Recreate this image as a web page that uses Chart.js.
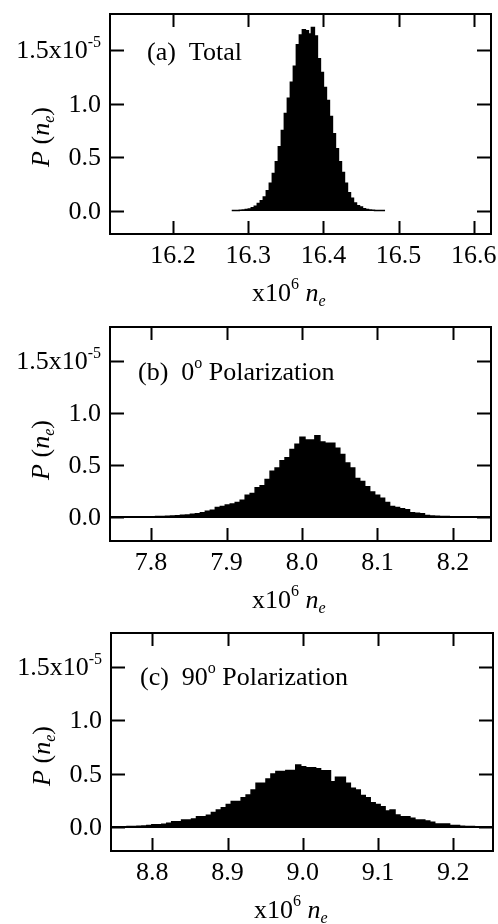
<!DOCTYPE html>
<html><head><meta charset="utf-8">
<script src="https://cdn.jsdelivr.net/npm/chart.js@4.4.1/dist/chart.umd.min.js"></script>
<style>
html,body{margin:0;padding:0;background:#fff;}
#wrap{position:relative;width:498px;height:924px;overflow:hidden;}
canvas{position:absolute;left:0;}
</style></head><body>
<div id="wrap">
<canvas id="ca" width="498" height="320" style="top:0px"></canvas>
<canvas id="cb" width="498" height="320" style="top:300px"></canvas>
<canvas id="cc" width="498" height="320" style="top:604px"></canvas>
</div>
<script>
// ---------------- DATA (P(n_e) in units of 1e-5; n_e in units of 1e6) ----------------
// (a) Total: bin centres start at 16.278, bin width 0.004
const binStartA = 16.278, binWidthA = 0.004;
const valuesA = [0.005,0.005,0.006,0.008,0.010,0.014,0.020,0.030,0.045,0.070,0.095,0.130,0.190,0.260,0.350,0.460,0.600,0.750,0.910,1.050,1.200,1.350,1.550,1.640,1.690,1.680,1.650,1.710,1.630,1.420,1.290,1.150,1.030,0.880,0.720,0.580,0.460,0.360,0.260,0.170,0.120,0.075,0.050,0.038,0.022,0.015,0.010,0.008,0.006,0.005,0.005,0.005];
// (b) 0° polarization: bin centres start at 7.7498, bin width 0.0066
const binStartB = 7.7498, binWidthB = 0.0066;
const valuesB = [0,0,0,0,0,0.001,0.002,0.002,0.003,0.004,0.005,0.007,0.009,0.012,0.016,0.020,0.026,0.030,0.040,0.055,0.064,0.090,0.100,0.115,0.125,0.140,0.160,0.210,0.225,0.280,0.300,0.360,0.440,0.470,0.540,0.570,0.650,0.700,0.766,0.740,0.740,0.780,0.720,0.710,0.710,0.660,0.600,0.520,0.470,0.370,0.340,0.290,0.240,0.210,0.180,0.140,0.100,0.090,0.080,0.070,0.040,0.035,0.030,0.015,0.010,0.006,0.005,0.004,0.003,0.002,0.001,0,0,0,0,0];
// (c) 90° polarization: bin centres start at 8.7498, bin width 0.0066
const binStartC = 8.7498, binWidthC = 0.0066;
const valuesC = [0.002,0.002,0.003,0.004,0.005,0.006,0.010,0.015,0.020,0.022,0.025,0.035,0.050,0.050,0.065,0.065,0.075,0.097,0.097,0.110,0.135,0.160,0.180,0.210,0.240,0.240,0.275,0.300,0.347,0.410,0.410,0.450,0.497,0.520,0.520,0.530,0.530,0.580,0.565,0.556,0.556,0.545,0.528,0.528,0.425,0.466,0.466,0.410,0.363,0.347,0.294,0.275,0.228,0.210,0.190,0.150,0.160,0.113,0.097,0.097,0.081,0.066,0.066,0.056,0.044,0.028,0.028,0.028,0.013,0.013,0.008,0.005,0.004,0.003,0.002,0.001];

const xTicksA = [16.2, 16.3, 16.4, 16.5, 16.6];
const xTicksB = [7.8, 7.9, 8.0, 8.1, 8.2];
const xTicksC = [8.8, 8.9, 9.0, 9.1, 9.2];
const yTicks = [0, 0.5, 1.0, 1.5];
const yTickLabels = ['0.0', '0.5', '1.0', '1.5x10'];
const yTopExponent = '-5';
const panelTags = ['(a)', '(b)', '(c)'];
const panelNames = ['Total', 'Polarization', 'Polarization'];
const panelAngles = ['', '0', '90'];
const xTitleParts = ['x10', '6', 'n', 'e'];
const yTitleParts = ['P', '(', 'n', 'e', ')'];

// ---------------- RENDERING ----------------
const SERIF = '"Liberation Serif", "Times New Roman", serif';
const FS = 26, FS_SMALL = 16;
function fnt(size, italic) { return (italic ? 'italic ' : '') + size + 'px ' + SERIF; }
function runsWidth(ctx, runs) {
  let w = 0;
  for (const r of runs) { ctx.font = fnt(r.s || FS, r.i); w += ctx.measureText(r.t).width; }
  return w;
}
function drawRuns(ctx, runs, x, y, align) {
  const w = runsWidth(ctx, runs);
  let cx = align === 'right' ? x - w : (align === 'center' ? x - w / 2 : x);
  ctx.textAlign = 'left'; ctx.textBaseline = 'alphabetic';
  for (const r of runs) {
    ctx.font = fnt(r.s || FS, r.i);
    ctx.fillText(r.t, cx, y + (r.dy || 0));
    cx += ctx.measureText(r.t).width;
  }
}
function histPoints(start, width, vals) {
  return vals.map((v, i) => ({ x: start + i * width, y: v }));
}

const framePlugin = {
  id: 'frame',
  afterDatasetsDraw(chart, args, o) {
    const ctx = chart.ctx, a = chart.chartArea, xs = chart.scales.x, ys = chart.scales.y;
    ctx.save();
    ctx.fillStyle = '#000'; ctx.strokeStyle = '#000';
    if (o.fullBaseline) {
      const y0 = ys.getPixelForValue(0);
      ctx.lineWidth = 2; ctx.beginPath(); ctx.moveTo(a.left, y0); ctx.lineTo(a.right, y0); ctx.stroke();
    }
    ctx.lineWidth = 2;
    ctx.strokeRect(a.left, a.top, a.right - a.left, a.bottom - a.top);
    ctx.beginPath();
    for (const v of o.xTicks) {
      const px = Math.round(xs.getPixelForValue(v)) + 0.5;
      ctx.moveTo(px, a.bottom); ctx.lineTo(px, a.bottom - 13);
      ctx.moveTo(px, a.top); ctx.lineTo(px, a.top + 13);
    }
    for (const v of yTicks) {
      const py = Math.round(ys.getPixelForValue(v)) + 0.5;
      ctx.moveTo(a.left, py); ctx.lineTo(a.left + 14, py);
      ctx.moveTo(a.right, py); ctx.lineTo(a.right - 14, py);
    }
    ctx.stroke();
    for (const v of o.xTicks) {
      drawRuns(ctx, [{ t: v.toFixed(1) }], xs.getPixelForValue(v), a.bottom + 29, 'center');
    }
    yTicks.forEach((v, i) => {
      const runs = [{ t: yTickLabels[i] }];
      if (i === yTicks.length - 1) runs.push({ t: yTopExponent, s: FS_SMALL, dy: -11 });
      drawRuns(ctx, runs, a.left - 9, ys.getPixelForValue(v) + 8, 'right');
    });
    ctx.save();
    ctx.translate(a.left - 61, a.top + 123);
    ctx.rotate(-Math.PI / 2);
    drawRuns(ctx, [
      { t: yTitleParts[0], i: true }, { t: ' ' + yTitleParts[1] }, { t: yTitleParts[2], i: true },
      { t: yTitleParts[3], i: true, s: FS_SMALL, dy: 5 }, { t: yTitleParts[4] }
    ], 0, 0, 'center');
    ctx.restore();
    drawRuns(ctx, [
      { t: xTitleParts[0] }, { t: xTitleParts[1], s: FS_SMALL, dy: -12 }, { t: ' ' },
      { t: xTitleParts[2], i: true }, { t: xTitleParts[3], i: true, s: FS_SMALL, dy: 5 }
    ], o.xTitleX, a.bottom + 67, 'left');
    const k = o.panel;
    const runs = [{ t: panelTags[k] + '  ' }];
    if (panelAngles[k]) { runs.push({ t: panelAngles[k] }); runs.push({ t: 'o', s: FS_SMALL, dy: -12 }); runs.push({ t: ' ' }); }
    runs.push({ t: panelNames[k] });
    drawRuns(ctx, runs, a.left + o.labelDX, a.top + o.labelDY, 'left');
    ctx.restore();
  }
};

function makeChart(id, pts, xr, yr, pad, frameOpts) {
  return new Chart(document.getElementById(id), {
    type: 'line',
    data: { datasets: [{
      data: pts, stepped: 'middle', fill: 'origin',
      backgroundColor: '#000', borderColor: '#000', borderWidth: 1.5,
      pointRadius: 0, tension: 0
    }] },
    options: {
      responsive: false, animation: false, devicePixelRatio: 1,
      layout: { padding: pad },
      plugins: { legend: { display: false }, tooltip: { enabled: false }, frame: frameOpts },
      scales: {
        x: { type: 'linear', display: false, min: xr[0], max: xr[1] },
        y: { type: 'linear', display: false, min: yr[0], max: yr[1] }
      }
    },
    plugins: [framePlugin]
  });
}

makeChart('ca', histPoints(binStartA, binWidthA, valuesA), [16.116, 16.623], [-0.214, 1.836],
  { left: 110, right: 7, top: 14, bottom: 86 },
  { xTicks: xTicksA, panel: 0, labelDX: 37, labelDY: 46, xTitleX: 252, fullBaseline: false });
makeChart('cb', histPoints(binStartB, binWidthB, valuesB), [7.7455, 8.2505], [-0.231, 1.827],
  { left: 110, right: 7, top: 27, bottom: 79 },
  { xTicks: xTicksB, panel: 1, labelDX: 28, labelDY: 53, xTitleX: 252, fullBaseline: true });
makeChart('cc', histPoints(binStartC, binWidthC, valuesC), [8.745, 9.253], [-0.225, 1.818],
  { left: 111, right: 5, top: 29, bottom: 73 },
  { xTicks: xTicksC, panel: 2, labelDX: 29, labelDY: 52, xTitleX: 254, fullBaseline: true });
</script>
</body></html>
